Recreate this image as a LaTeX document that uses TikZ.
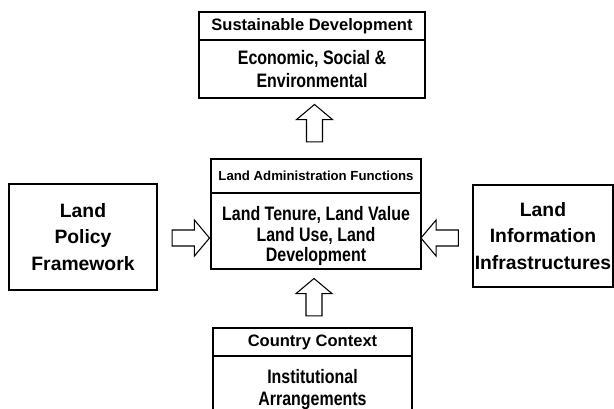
\documentclass[tikz,border=0pt]{standalone}
\usepackage{fontspec}
\setmainfont{Liberation Sans}
\newfontfamily\narrowfont{Liberation Sans}[FakeStretch=0.82]
\usetikzlibrary{shapes.arrows}

\tikzset{
    box/.style={draw, line width=0.9pt, align=center, inner sep=0pt, font=\bfseries},
    headbox/.style={box, font=\fontsize{12.4}{14}\selectfont\bfseries},
    bodybox/.style={box, font=\narrowfont\fontsize{14.6}{17}\selectfont\bfseries},
    bodytext/.style={align=center, inner sep=0pt, font=\narrowfont\fontsize{14.6}{15.4}\selectfont\bfseries},
    sidebox/.style={box, font=\fontsize{14.5}{20}\selectfont\bfseries},
    blockarrow/.style={draw, line width=0.8pt, single arrow, inner xsep=0pt, inner ysep=5.6pt,
        minimum height=28pt, single arrow head extend=7.5pt, single arrow tip angle=100}
}

\begin{document}
\begin{tikzpicture}[x=0.75pt, y=-0.75pt]
            \path[use as bounding box, clip] (0,0) rectangle (614,408);

            % top: goal
            \node[headbox, minimum width=169.5pt, minimum height=21pt] (goal) at (312,26)
                {Sustainable Development};
            \node[bodybox, minimum width=169.5pt, minimum height=43.5pt] (goalbody) at (312,69)
                {Economic, Social \&\\Environmental};

            % centre: functions
            \node[headbox, minimum width=157.5pt, minimum height=25.5pt,
                font=\fontsize{9.9}{12}\selectfont\bfseries] (functions) at (316,176)
                {Land Administration Functions};
            \node[box, minimum width=157.5pt, minimum height=57pt] (functionsbody) at (316,231) {};
            \node[bodytext] (functionstext) at (316,236)
                {Land Tenure, Land Value\\Land Use, Land\\Development};

            % sides
            \node[sidebox, minimum width=111pt, minimum height=79.5pt] (policy) at (83,237)
                {Land\\Policy\\Framework};
            \node[sidebox, minimum width=105pt, minimum height=76.5pt] (info) at (543,236)
                {Land\\Information\\Infrastructures};

            % bottom: context
            \node[headbox, minimum width=149.25pt, minimum height=21pt] (context) at (312.5,342)
                {Country Context};
            \node[bodybox, minimum width=149.25pt, minimum height=51pt,
                font=\narrowfont\fontsize{14.6}{16.5}\selectfont\bfseries] (contextbody) at (312.5,390)
                {Institutional\\Arrangements};

            % block arrows
            \node[blockarrow, rotate=90] (uptop) at (314.5,126.5) {};
            \node[blockarrow] (fromleft) at (187.5,238) {};
            \node[blockarrow, rotate=180] (fromright) at (443,238) {};
            \node[blockarrow, rotate=90] (upbottom) at (314,300.5) {};

        \end{tikzpicture}
\end{document}
